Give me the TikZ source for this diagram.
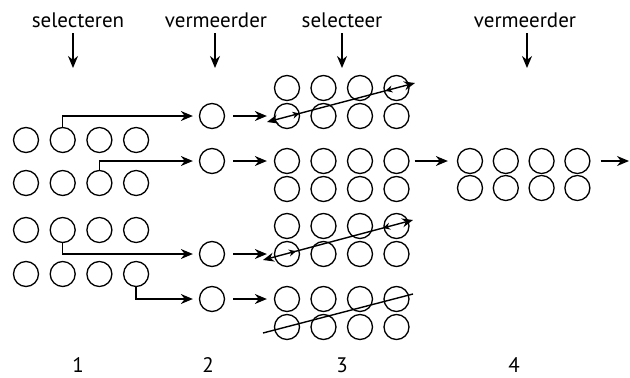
\documentclass[tikz,border=0pt]{standalone}
\usepackage{fontspec}
\setmainfont{PT Sans}
\usetikzlibrary{positioning,arrows.meta,decorations.markings}

\begin{document}
\begin{tikzpicture}[x=1pt,y=-1pt,
    roundnode/.style={circle, draw, line width=1.3pt, minimum size=25pt, inner sep=0pt},
    headtext/.style={anchor=base, inner sep=2pt, font=\fontsize{21}{25}\selectfont},
    arrowline/.style={-{Stealth[length=12pt,width=10pt]}, line width=1.3pt},
    cutline/.style={line width=1.4pt, postaction={decorate}, decoration={markings,
        mark=at position 0.22 with {\arrow{Stealth[length=7pt,width=7pt]}},
        mark=at position 0.8 with {\arrowreversed{Stealth[length=7pt,width=7pt]}}}},]
    \useasboundingbox (0,0) rectangle (630,378);

    %Labels
    \node[headtext](head_1) at (78,27){selecteren};
    \node[headtext](head_2) at (216,27){vermeerder};
    \node[headtext](head_3) at (342,27){selecteer};
    \node[headtext](head_4) at (525,27){vermeerder};
    \node[headtext](num_1) at (78,372){1};
    \node[headtext](num_2) at (208,372){2};
    \node[headtext](num_3) at (342,372){3};
    \node[headtext](num_4) at (514,372){4};

    %Nodes
    \foreach \r/\y in {1/140,2/183,3/230,4/274}
        \foreach \c in {1,...,4}
            \node[roundnode](startcircle_\r_\c) at ({26+36.7*(\c-1)},\y){};
    \node[roundnode](copycircle_1) at (212,116){};
    \node[roundnode](copycircle_2) at (212,161){};
    \node[roundnode](copycircle_3) at (212,254){};
    \node[roundnode](copycircle_4) at (212,299){};
    \foreach \b/\y in {1/88,2/161,3/226,4/299}
        \foreach \c in {1,...,4}{
            \node[roundnode](selcircle_\b_1_\c) at ({287+36.5*(\c-1)},\y){};
            \node[roundnode](selcircle_\b_2_\c) at ({287+36.5*(\c-1)},{\y+28}){};
        }
    \foreach \c in {1,...,4}{
        \node[roundnode](endcircle_1_\c) at ({470+35.8*(\c-1)},161){};
        \node[roundnode](endcircle_2_\c) at ({470+35.8*(\c-1)},188){};
    }
    \coordinate (exit) at (629,161);
    \coordinate (cut_1a) at (267,122);
    \coordinate (cut_1b) at (415,83);
    \coordinate (cut_3a) at (263,260);
    \coordinate (cut_3b) at (413,220);
    \coordinate (cut_4a) at (263,333);
    \coordinate (cut_4b) at (413,294);

    %Lines
    \draw[arrowline] ([xshift=-5pt,yshift=-6pt]head_1.base) -- ++(0,35);
    \draw[arrowline] ([xshift=-1pt,yshift=-6pt]head_2.base) -- ++(0,35);
    \draw[arrowline] ([yshift=-6pt]head_3.base) -- ++(0,35);
    \draw[arrowline] ([xshift=2pt,yshift=-6pt]head_4.base) -- ++(0,35);
    \draw[arrowline, shorten >=6pt] (startcircle_1_2.north) |- (copycircle_1.west);
    \draw[arrowline, shorten >=6pt] (startcircle_2_3.north) |- (copycircle_2.west);
    \draw[arrowline, shorten >=6pt] (startcircle_3_2.south) |- (copycircle_3.west);
    \draw[arrowline, shorten >=6pt] (startcircle_4_4.south) |- (copycircle_4.west);
    \draw[arrowline, shorten <=8pt, shorten >=7pt] (copycircle_1.east) -- (selcircle_1_2_1.west);
    \draw[arrowline, shorten <=8pt, shorten >=7pt] (copycircle_2.east) -- (selcircle_2_1_1.west);
    \draw[arrowline, shorten <=8pt, shorten >=7pt] (copycircle_3.east) -- (selcircle_3_2_1.west);
    \draw[arrowline, shorten <=8pt, shorten >=7pt] (copycircle_4.east) -- (selcircle_4_1_1.west);
    \draw[arrowline, shorten <=5pt, shorten >=9pt] (selcircle_2_1_4.east) -- (endcircle_1_1.west);
    \draw[arrowline, shorten <=10pt] (endcircle_1_4.east) -- (exit);
    \draw[cutline, {Stealth[length=11pt,width=9pt]}-{Stealth[length=11pt,width=9pt]}] (cut_1a) -- (cut_1b);
    \draw[cutline, {Stealth[length=11pt,width=9pt]}-{Stealth[length=11pt,width=9pt]}] (cut_3a) -- (cut_3b);
    \draw[line width=1.4pt] (cut_4a) -- (cut_4b);
\end{tikzpicture}
\end{document}
